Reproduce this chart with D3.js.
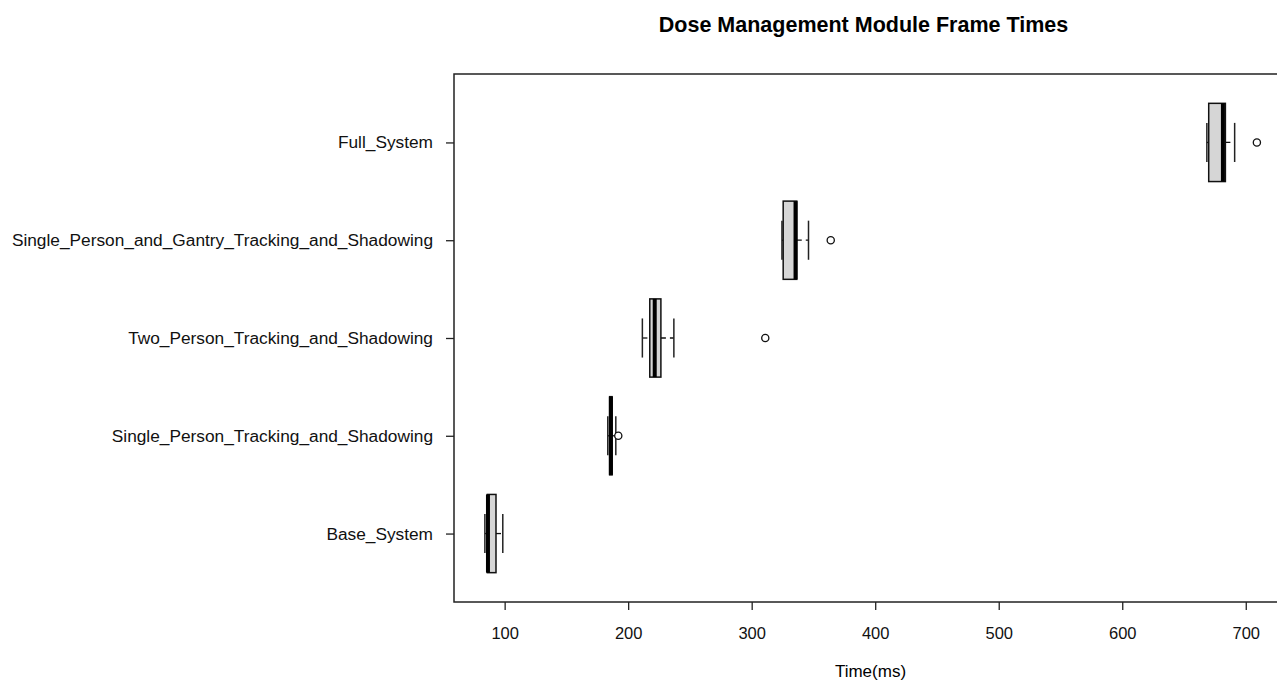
<!DOCTYPE html>
<html>
<head>
<meta charset="utf-8">
<script src="https://cdn.jsdelivr.net/npm/d3@7"></script>
<style>
  body { margin: 0; background: #fff; }
  svg { display: block; font-family: 'Liberation Sans', Arial, sans-serif; }
</style>
</head>
<body>
<svg id="chart" width="1277" height="683"></svg>
<script>
// groups from bottom to top
const groups = ['Base_System', 'Single_Person_Tracking_and_Shadowing', 'Two_Person_Tracking_and_Shadowing',
  'Single_Person_and_Gantry_Tracking_and_Shadowing', 'Full_System'];
const whiskerLow = [84, 183.5, 211.5, 324.5, 668.5];
const q1 = [86, 185, 217.5, 325.5, 670];
const medians = [86.5, 186, 221.5, 335.5, 681.5];
const q3 = [93, 187, 226.5, 336.5, 683.5];
const whiskerHigh = [98.5, 190, 237, 346, 691];
const outliers = [[], [192], [311], [364], [709]];
const xTicks = [100, 200, 300, 400, 500, 600, 700];

const svg = d3.select('#chart');
const plotLeft = 454, plotRight = 1289, plotTop = 74, plotBottom = 602;

const x = d3.scaleLinear().domain([59, 735]).range([plotLeft, plotRight]);
const y = d3.scaleLinear().domain([0.3, 5.7]).range([plotBottom, plotTop]);
const boxHalf = y(0) - y(0.4);
const stapleHalf = y(0) - y(0.2);

// title
svg.append('text')
  .attr('x', (plotLeft + plotRight) / 2 - 8)
  .attr('y', 32)
  .attr('text-anchor', 'middle')
  .style('font-size', '21.5px')
  .style('font-weight', 'bold')
  .text('Dose Management Module Frame Times');

// frame
svg.append('rect')
  .attr('x', plotLeft).attr('y', plotTop)
  .attr('width', plotRight - plotLeft).attr('height', plotBottom - plotTop)
  .attr('fill', 'none').attr('stroke', '#222').attr('stroke-width', 1.5);

// x axis
const xAxis = d3.axisBottom(x).tickValues(xTicks).tickSize(8).tickPadding(17);
const gx = svg.append('g').attr('transform', `translate(0,${plotBottom})`).call(xAxis);
gx.select('.domain').remove();
gx.selectAll('line').attr('stroke', '#222').attr('stroke-width', 1.3);
gx.selectAll('text').style('font-size', '16.5px').attr('fill', '#111');

svg.append('text')
  .attr('x', (plotLeft + plotRight) / 2 - 1)
  .attr('y', 677)
  .attr('text-anchor', 'middle')
  .style('font-size', '17px')
  .text('Time(ms)');

// y axis
const yAxis = d3.axisLeft(y).tickValues(groups.map((g, i) => i + 1))
  .tickFormat((d) => groups[d - 1]).tickSize(8).tickPadding(13);
const gy = svg.append('g').attr('transform', `translate(${plotLeft},0)`).call(yAxis);
gy.select('.domain').remove();
gy.selectAll('line').attr('stroke', '#222').attr('stroke-width', 1.3);
gy.selectAll('text').style('font-size', '17.3px').attr('fill', '#111');

// boxes
groups.forEach(function (g, i) {
  const cy = y(i + 1);
  const b = svg.append('g');

  // whiskers
  b.append('line')
    .attr('x1', x(whiskerLow[i])).attr('x2', x(q1[i]))
    .attr('y1', cy).attr('y2', cy)
    .attr('stroke', '#111').attr('stroke-width', 1.3).attr('stroke-dasharray', '5,4');
  b.append('line')
    .attr('x1', x(q3[i])).attr('x2', x(whiskerHigh[i]))
    .attr('y1', cy).attr('y2', cy)
    .attr('stroke', '#111').attr('stroke-width', 1.3).attr('stroke-dasharray', '5,4');

  // staples
  [whiskerLow[i], whiskerHigh[i]].forEach(function (v) {
    b.append('line')
      .attr('x1', x(v)).attr('x2', x(v))
      .attr('y1', cy - stapleHalf).attr('y2', cy + stapleHalf)
      .attr('stroke', '#222').attr('stroke-width', 1.5);
  });

  // box
  b.append('rect')
    .attr('x', x(q1[i])).attr('y', cy - boxHalf)
    .attr('width', x(q3[i]) - x(q1[i])).attr('height', boxHalf * 2)
    .attr('fill', '#d6d6d6').attr('stroke', '#111').attr('stroke-width', 1.5);

  // median
  b.append('line')
    .attr('x1', x(medians[i])).attr('x2', x(medians[i]))
    .attr('y1', cy - boxHalf).attr('y2', cy + boxHalf)
    .attr('stroke', '#000').attr('stroke-width', 4);

  // outliers
  outliers[i].forEach(function (v) {
    b.append('circle')
      .attr('cx', x(v)).attr('cy', cy).attr('r', 3.6)
      .attr('fill', '#fff').attr('stroke', '#111').attr('stroke-width', 1.3);
  });
});
</script>
</body>
</html>
